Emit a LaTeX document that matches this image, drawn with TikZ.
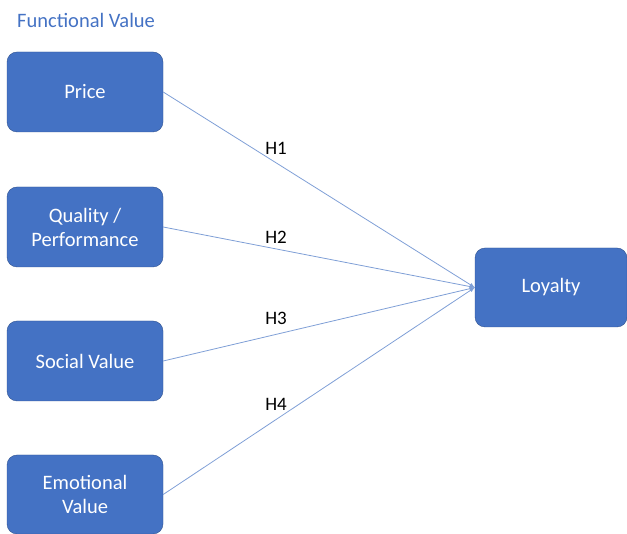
\documentclass[tikz,border=0pt]{standalone}
\usepackage{fontspec}
\setmainfont{Carlito}
\usepackage{tikz}
\definecolor{boxblue}{HTML}{4472C4}
\definecolor{boxedge}{HTML}{2F528F}
\definecolor{linkblue}{HTML}{7F9FD6}
\tikzset{
  valuebox/.style={draw=boxedge, fill=boxblue, text=white, rounded corners=10pt,
    minimum width=156pt, minimum height=80pt, align=center, font=\fontsize{20.5}{24}\selectfont},
  link/.style={draw=linkblue, line width=0.8pt, -{latex[scale=1.3]}},
  hyp/.style={font=\fontsize{19}{22}\selectfont}
}

\begin{document}
\begin{tikzpicture}[x=1pt,y=-1pt]
\useasboundingbox (0,0) rectangle (627,534);
\node[anchor=west, text=boxblue, font=\fontsize{20.5}{24}\selectfont, inner sep=0pt] (title) at (17,20) {Functional Value};
\node[valuebox] (price) at (85,92) {Price};
\node[valuebox] (quality) at (85,227) {Quality /\\Performance};
\node[valuebox] (social) at (85,361) {Social Value};
\node[valuebox, minimum height=79pt] (emotional) at (85,494.5) {Emotional\\Value};
\node[valuebox, minimum width=152pt, minimum height=79pt] (loyalty) at (551,287.5) {Loyalty};
\foreach \n in {price,quality,social,emotional}
\draw[link] (\n.east) -- (loyalty.west);
\node[hyp] (h1) at (276,148) {H1};
\node[hyp] (h2) at (276,237) {H2};
\node[hyp] (h3) at (276,318) {H3};
\node[hyp] (h4) at (276,404) {H4};
\end{tikzpicture}
\end{document}
